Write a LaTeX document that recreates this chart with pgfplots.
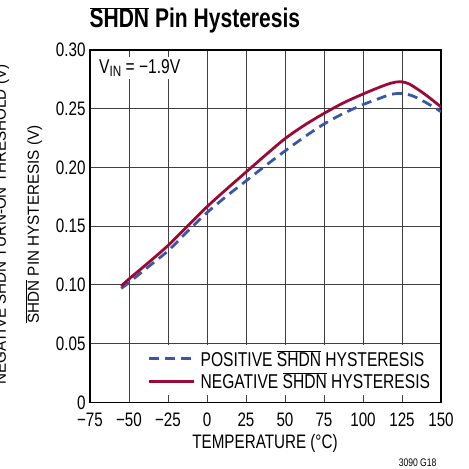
\documentclass[border=0pt]{standalone}
\usepackage{fontspec}
\setmainfont{Liberation Sans}[FakeStretch=0.78]
\newfontfamily\ylabfont{Liberation Sans}[FakeStretch=0.95]
\usepackage{pgfplots}
\pgfplotsset{compat=1.18}
\definecolor{myred}{HTML}{9A0A35}
\definecolor{myblue}{HTML}{3A56A8}
\newcommand\ol[1]{$\overline{\mbox{#1}}$}
\begin{document}
\begin{tikzpicture}[x=1pt,y=1pt]
\begin{axis}[
  at={(0,0)}, anchor=south west,
  scale only axis, width=351pt, height=352.3pt,
  xmin=-75, xmax=150, ymin=0, ymax=0.30,
  xtick={-75,-50,-25,0,25,50,75,100,125,150},
  xticklabels={−75,−50,−25,0,25,50,75,100,125,150},
  ytick={0,0.05,0.1,0.15,0.2,0.25,0.3},
  yticklabels={0,0.05,0.10,0.15,0.20,0.25,0.30},
  grid=major,
  major grid style={draw=black!75, line width=0.8pt},
  axis line style={line width=1.3pt},
  major tick length=0pt,
  ticklabel style={font=\fontsize{19.5}{19.5}\selectfont},
  xticklabel style={yshift=-7pt},
  yticklabel style={xshift=-1pt},
  legend style={at={(0.995,0.02)}, anchor=south east, draw=none, fill=white,
    font=\fontsize{20}{20}\selectfont, row sep=1pt, column sep=3pt, inner xsep=7pt, inner ysep=3pt,
    cells={anchor=west}},
  legend image code/.code={\draw[#1] (0pt,0pt) -- (45pt,0pt);},
]
\addplot[myblue, line width=2.8pt, dash pattern=on 10pt off 6pt, smooth] coordinates {
(-55,0.097) (-50,0.102) (-37.5,0.1155) (-25,0.129) (-12.5,0.1455) (0,0.1615) (12.5,0.1755) (25,0.1885)
(37.5,0.2015) (50,0.214) (62.5,0.226) (75,0.237) (87.5,0.246) (100,0.2535) (110,0.2585)
(118,0.2622) (125,0.263) (132,0.2608) (140,0.2555) (150,0.2475)};
\addlegendentry{POSITIVE \ol{SHDN} HYSTERESIS}
\addplot[myred, line width=2.8pt, smooth] coordinates {
(-55,0.099) (-50,0.105) (-37.5,0.119) (-25,0.1335) (-12.5,0.150) (0,0.1665) (12.5,0.1815) (25,0.196)
(37.5,0.2105) (50,0.2245) (62.5,0.236) (75,0.246) (87.5,0.255) (100,0.2625) (110,0.268)
(118,0.2718) (124,0.273) (130,0.2708) (140,0.262) (150,0.2515)};
\addlegendentry{NEGATIVE \ol{SHDN} HYSTERESIS}
\end{axis}
\node[anchor=base west, fill=white, inner sep=2pt, font=\fontsize{20}{20}\selectfont] at (7,329) {V\raisebox{-0.35ex}{\fontsize{15}{15}\selectfont IN} = −1.9V};
\node[anchor=base west, font=\bfseries\fontsize{27}{27}\selectfont] at (-4,374.3) {\ol{SHDN} Pin Hysteresis};
\node[rotate=90, font=\ylabfont\fontsize{16}{16}\selectfont] at (-56,177.8) {\ol{SHDN} PIN HYSTERESIS (V)};
\node[rotate=90, font=\ylabfont\fontsize{16}{16}\selectfont] at (-89,177.8) {NEGATIVE \ol{SHDN} TURN-ON THRESHOLD (V)};
\node[font=\fontsize{19.5}{19.5}\selectfont] at (175,-40.7) {TEMPERATURE (°C)};
\node[anchor=base east, font=\fontsize{11}{11}\selectfont] at (350,-64.5) {3090 G18};
\pgfresetboundingbox
\path[use as bounding box] (-90,-66.7) rectangle (379,402.3);
\end{tikzpicture}
\end{document}
